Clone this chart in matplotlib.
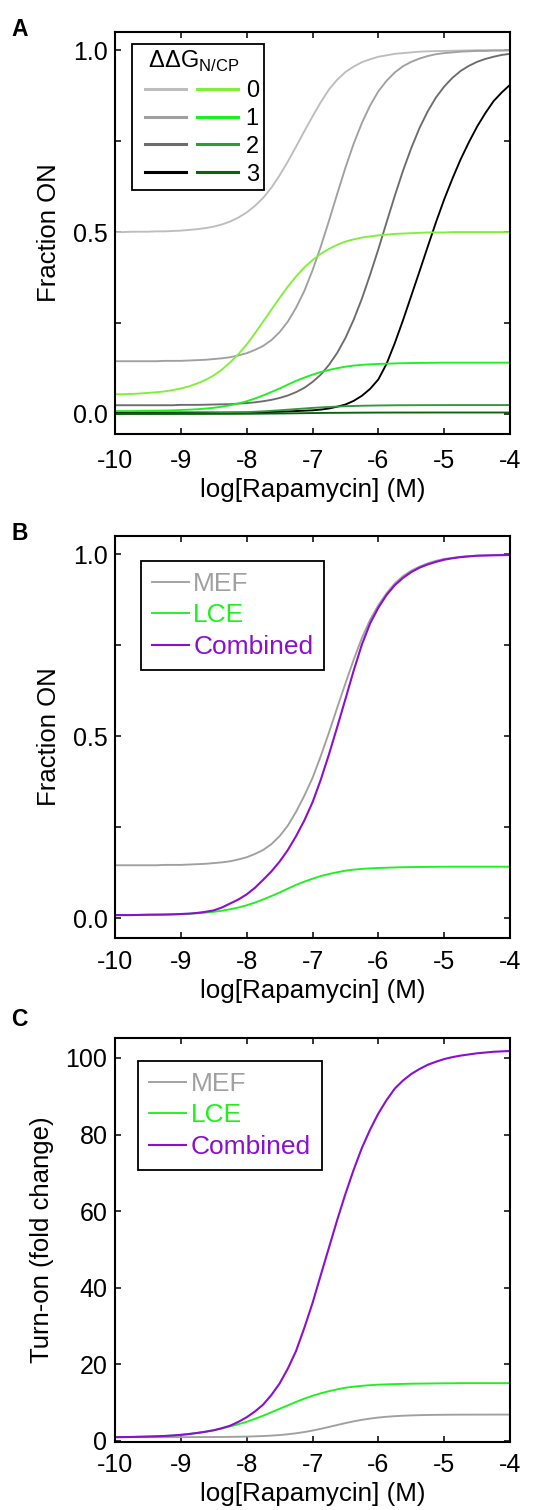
import matplotlib
matplotlib.use('Agg')
import matplotlib.pyplot as plt
from matplotlib.lines import Line2D
from matplotlib.legend_handler import HandlerTuple
from matplotlib.ticker import MultipleLocator

plt.rcParams['font.family'] = ['Liberation Sans', 'DejaVu Sans']
plt.rcParams['mathtext.fontset'] = 'custom'
plt.rcParams['mathtext.rm'] = 'Liberation Sans'
plt.rcParams['axes.unicode_minus'] = False

# ---------------- data ----------------
# fine grid for the curves, coarse grid for the two nearly flat ones
log_rapa = [-10.0, -9.875, -9.75, -9.625, -9.5, -9.375, -9.25, -9.125, -9.0, -8.875,
            -8.75, -8.625, -8.5, -8.375, -8.25, -8.125, -8.0, -7.875, -7.75, -7.625,
            -7.5, -7.375, -7.25, -7.125, -7.0, -6.875, -6.75, -6.625, -6.5, -6.375,
            -6.25, -6.125, -6.0, -5.875, -5.75, -5.625, -5.5, -5.375, -5.25, -5.125,
            -5.0, -4.875, -4.75, -4.625, -4.5, -4.375, -4.25, -4.125, -4.0]
log_rapa_coarse = [-10.0, -9.75, -9.5, -9.25, -9.0, -8.75, -8.5, -8.25, -8.0, -7.75, -7.5, -7.25,
                   -7.0, -6.75, -6.5, -6.25, -6.0, -5.75, -5.5, -5.25, -5.0, -4.75, -4.5, -4.25, -4.0]

ddg_labels = ['0', '1', '2', '3']
series_names = ['MEF', 'LCE', 'Combined']

# panel A, MEF (grey) curves for ddG = 0..3
mef_0 = [0.500, 0.500, 0.501, 0.501, 0.501, 0.502, 0.502, 0.503, 0.504, 0.506,
         0.508, 0.511, 0.515, 0.521, 0.529, 0.540, 0.554, 0.572, 0.594, 0.622,
         0.656, 0.694, 0.735, 0.777, 0.818, 0.857, 0.892, 0.919, 0.940, 0.955,
         0.967, 0.975, 0.982, 0.986, 0.990, 0.992, 0.994, 0.996, 0.997, 0.9975,
         0.998, 0.9985, 0.999, 0.9993, 1.000, 1.000, 1.000, 1.000, 1.000]
mef_1 = [0.145, 0.145, 0.145, 0.145, 0.145, 0.145, 0.146, 0.146, 0.146, 0.147,
         0.148, 0.149, 0.151, 0.153, 0.156, 0.161, 0.167, 0.176, 0.187, 0.203,
         0.225, 0.254, 0.292, 0.338, 0.395, 0.460, 0.531, 0.605, 0.677, 0.743,
         0.800, 0.848, 0.887, 0.916, 0.939, 0.956, 0.968, 0.977, 0.984, 0.989,
         0.992, 0.994, 0.996, 0.997, 0.998, 0.998, 0.999, 0.999, 0.9995]
mef_2 = [0.024, 0.024, 0.024, 0.024, 0.024, 0.024, 0.024, 0.024, 0.025, 0.025,
         0.025, 0.0255, 0.026, 0.0265, 0.027, 0.0285, 0.030, 0.032, 0.035, 0.0388,
         0.044, 0.0508, 0.060, 0.0718, 0.088, 0.108, 0.135, 0.168, 0.209, 0.259,
         0.317, 0.383, 0.453, 0.527, 0.600, 0.669, 0.731, 0.786, 0.832, 0.870,
         0.900, 0.924, 0.943, 0.957, 0.968, 0.976, 0.982, 0.987, 0.990]
mef_3 = [0.004, 0.004, 0.004, 0.004, 0.004, 0.004, 0.004, 0.004, 0.004, 0.004,
         0.004, 0.004, 0.004, 0.004, 0.004, 0.004, 0.004, 0.0045, 0.005, 0.0055,
         0.006, 0.007, 0.008, 0.009, 0.010, 0.012, 0.015, 0.020, 0.026, 0.036,
         0.050, 0.069, 0.095, 0.138, 0.195, 0.258, 0.325, 0.392, 0.460, 0.527,
         0.590, 0.647, 0.700, 0.747, 0.790, 0.827, 0.860, 0.884, 0.905]

# panel A, LCE (green) curves for ddG = 0..3
lce_0 = [0.054, 0.0544, 0.055, 0.0563, 0.058, 0.0596, 0.062, 0.0656, 0.070, 0.076,
         0.084, 0.0937, 0.106, 0.1222, 0.142, 0.1646, 0.191, 0.2215, 0.254, 0.2866,
         0.319, 0.350, 0.378, 0.4026, 0.423, 0.4404, 0.454, 0.465, 0.474, 0.480,
         0.485, 0.488, 0.491, 0.493, 0.495, 0.496, 0.497, 0.498, 0.499, 0.499,
         0.499, 0.500, 0.500, 0.500, 0.500, 0.500, 0.500, 0.500, 0.500]
lce_1 = [0.008, 0.008, 0.008, 0.0085, 0.009, 0.0092, 0.0095, 0.010, 0.011, 0.0117,
         0.013, 0.0148, 0.017, 0.0201, 0.024, 0.0289, 0.035, 0.0423, 0.051, 0.0603,
         0.070, 0.0807, 0.091, 0.100, 0.108, 0.1153, 0.121, 0.1258, 0.130, 0.133,
         0.135, 0.1365, 0.1375, 0.1383, 0.139, 0.1395, 0.140, 0.1403, 0.1405, 0.1408,
         0.141, 0.141, 0.141, 0.141, 0.141, 0.141, 0.141, 0.141, 0.141]
lce_2 = [0.001, 0.0011, 0.0011, 0.0013, 0.0015, 0.0018, 0.0024, 0.0034, 0.0049, 0.0072, 0.0101, 0.0134,
         0.0167, 0.0193, 0.0213, 0.0226, 0.0234, 0.0239, 0.0241, 0.0243, 0.0244, 0.0245, 0.0245, 0.0245, 0.0245]
lce_3 = [0.0, 0.0, 0.0, 0.0, 0.0001, 0.0001, 0.0002, 0.0003, 0.0005, 0.0009, 0.0013, 0.0019,
         0.0025, 0.0030, 0.0033, 0.0036, 0.0038, 0.0039, 0.0039, 0.0040, 0.0040, 0.0040, 0.0040, 0.0040, 0.0040]

# panel B, fraction ON
mef_b = [0.145, 0.145, 0.145, 0.145, 0.145, 0.145, 0.146, 0.146, 0.146, 0.147,
         0.148, 0.149, 0.151, 0.153, 0.156, 0.161, 0.167, 0.176, 0.187, 0.203,
         0.225, 0.254, 0.292, 0.336, 0.385, 0.445, 0.510, 0.578, 0.645, 0.710,
         0.770, 0.820, 0.860, 0.893, 0.920, 0.940, 0.955, 0.966, 0.975, 0.982,
         0.987, 0.990, 0.993, 0.995, 0.996, 0.997, 0.998, 0.9985, 0.999]
lce_b = lce_1
comb_b = [0.008, 0.008, 0.008, 0.0085, 0.009, 0.0092, 0.0095, 0.010, 0.011, 0.012,
          0.014, 0.017, 0.021, 0.029, 0.040, 0.051, 0.065, 0.083, 0.105, 0.128,
          0.155, 0.187, 0.225, 0.268, 0.318, 0.380, 0.450, 0.525, 0.602, 0.680,
          0.752, 0.810, 0.853, 0.888, 0.915, 0.935, 0.951, 0.963, 0.972, 0.979,
          0.985, 0.989, 0.992, 0.994, 0.996, 0.9965, 0.997, 0.9975, 0.998]

# panel C, turn-on (fold change)
mef_c = [1.0, 1.0, 1.0, 1.0, 1.0, 1.0, 1.0, 1.0, 1.0, 1.01,
         1.02, 1.03, 1.04, 1.05, 1.08, 1.11, 1.15, 1.21, 1.29, 1.40,
         1.55, 1.75, 2.01, 2.33, 2.72, 3.17, 3.66, 4.17, 4.67, 5.12,
         5.52, 5.85, 6.12, 6.32, 6.48, 6.59, 6.68, 6.74, 6.79, 6.82,
         6.84, 6.86, 6.87, 6.875, 6.88, 6.885, 6.89, 6.89, 6.89]
lce_c = [1.0, 1.02, 1.05, 1.1, 1.15, 1.22, 1.3, 1.43, 1.6, 1.82,
         2.1, 2.42, 2.8, 3.27, 3.8, 4.38, 5.0, 5.78, 6.6, 7.5,
         8.4, 9.3, 10.2, 11.05, 11.8, 12.45, 13.0, 13.48, 13.9, 14.18,
         14.4, 14.57, 14.7, 14.78, 14.85, 14.9, 14.95, 14.98, 15.0, 15.03,
         15.05, 15.07, 15.1, 15.1, 15.1, 15.1, 15.1, 15.1, 15.1]
comb_c = [1.0, 1.02, 1.05, 1.1, 1.15, 1.22, 1.3, 1.43, 1.6, 1.82,
          2.1, 2.42, 2.8, 3.35, 4.0, 5.0, 6.2, 7.7, 9.5, 12.0,
          15.0, 18.9, 23.5, 29.5, 36.0, 43.3, 50.5, 57.7, 64.5, 70.8,
          76.5, 81.3, 85.5, 89.0, 92.0, 94.1, 95.8, 97.1, 98.2, 99.0,
          99.7, 100.2, 100.6, 100.9, 101.2, 101.4, 101.6, 101.7, 101.8]

# ---------------- styles ----------------
grey_cols = ['#bdbdbd', '#a0a0a0', '#6c6c6c', '#000000']
green_cols = ['#7ff03a', '#1ef01e', '#2e9a3a', '#0b620b']
col_mef, col_lce, col_comb = '#a0a0a0', '#1ef01e', '#8a0fd0'
lw = 1.35

fig = plt.figure(figsize=(5.33, 15.10), dpi=100)
axA = fig.add_axes([0.2158, 0.7126, 0.7411, 0.2662])
axB = fig.add_axes([0.2158, 0.3788, 0.7411, 0.2662])
axC = fig.add_axes([0.2158, 0.0452, 0.7411, 0.2674])


def style(ax, xpad):
    ax.set_xlim(-10, -4)
    ax.xaxis.set_major_locator(MultipleLocator(1))
    ax.tick_params(which='both', direction='in', top=True, right=True,
                   length=4.5, width=1.1, labelsize=18)
    ax.tick_params(axis='y', pad=5.5)
    ax.tick_params(axis='x', pad=xpad)
    for s in ax.spines.values():
        s.set_linewidth(1.5)
    ax.set_xlabel('log[Rapamycin] (M)', fontsize=18.7, labelpad=4)


# ---- A ----
mef_a = [mef_0, mef_1, mef_2, mef_3]
lce_a = [lce_0, lce_1]
for ys, c in zip(mef_a, grey_cols):
    axA.plot(log_rapa, ys, color=c, lw=lw)
for ys, c in zip(lce_a, green_cols[:2]):
    axA.plot(log_rapa, ys, color=c, lw=lw)
axA.plot(log_rapa_coarse, lce_2, color=green_cols[2], lw=lw)
axA.plot(log_rapa_coarse, lce_3, color=green_cols[3], lw=lw)
axA.set_ylim(-0.055, 1.05)
axA.yaxis.set_major_locator(MultipleLocator(0.5))
axA.yaxis.set_minor_locator(MultipleLocator(0.25))
axA.set_ylabel('Fraction ON', fontsize=18.5, labelpad=8)
style(axA, 10.5)

handles = [(Line2D([], [], color=g, lw=2.2), Line2D([], [], color=l, lw=2.2))
           for g, l in zip(grey_cols, green_cols)]
leg = axA.legend(handles, ddg_labels,
                 handler_map={tuple: HandlerTuple(ndivide=None, pad=0.45, xpad=0.34)},
                 title='\u2002ΔΔG$_{\\rm N/CP}$', alignment='left', loc='upper left',
                 bbox_to_anchor=(0.0438, 0.970), borderaxespad=0, fontsize=17, title_fontsize=17,
                 handlelength=4.29, handletextpad=0.31, labelspacing=0.25, borderpad=0.2,
                 fancybox=False, edgecolor='black', framealpha=1)
leg.get_frame().set_linewidth(1.3)

# ---- B ----
axB.plot(log_rapa, mef_b, color=col_mef, lw=lw, label=series_names[0])
axB.plot(log_rapa, lce_b, color=col_lce, lw=lw, label=series_names[1])
axB.plot(log_rapa, comb_b, color=col_comb, lw=1.5, label=series_names[2])
axB.set_ylim(-0.055, 1.05)
axB.yaxis.set_major_locator(MultipleLocator(0.5))
axB.yaxis.set_minor_locator(MultipleLocator(0.25))
axB.set_ylabel('Fraction ON', fontsize=18.5, labelpad=8)
style(axB, 8.5)

# ---- C ----
axC.plot(log_rapa, mef_c, color=col_mef, lw=lw, label=series_names[0])
axC.plot(log_rapa, lce_c, color=col_lce, lw=lw, label=series_names[1])
axC.plot(log_rapa, comb_c, color=col_comb, lw=1.5, label=series_names[2])
axC.set_ylim(-0.2, 105.2)
axC.yaxis.set_major_locator(MultipleLocator(20))
axC.set_ylabel('Turn-on (fold change)', fontsize=18.5, labelpad=8)
style(axC, 8)

for ax, anchor in ((axB, (0.065, 0.938)), (axC, (0.059, 0.943))):
    lg = ax.legend(loc='upper left', bbox_to_anchor=anchor, borderaxespad=0, fontsize=19,
                   handlelength=1.4, handletextpad=0.17, labelspacing=0.28, borderpad=0.42,
                   fancybox=False, edgecolor='black', framealpha=1)
    lg.get_frame().set_linewidth(1.3)
    for t, c in zip(lg.get_texts(), (col_mef, col_lce, col_comb)):
        t.set_color(c)

for lab, ypix in (('A', 29), ('B', 534), ('C', 1019)):
    fig.text(11.5 / 533, 1 - ypix / 1510, lab, fontsize=16.5, fontweight='bold', va='center', ha='left')

fig.savefig('out.png', dpi=100)
